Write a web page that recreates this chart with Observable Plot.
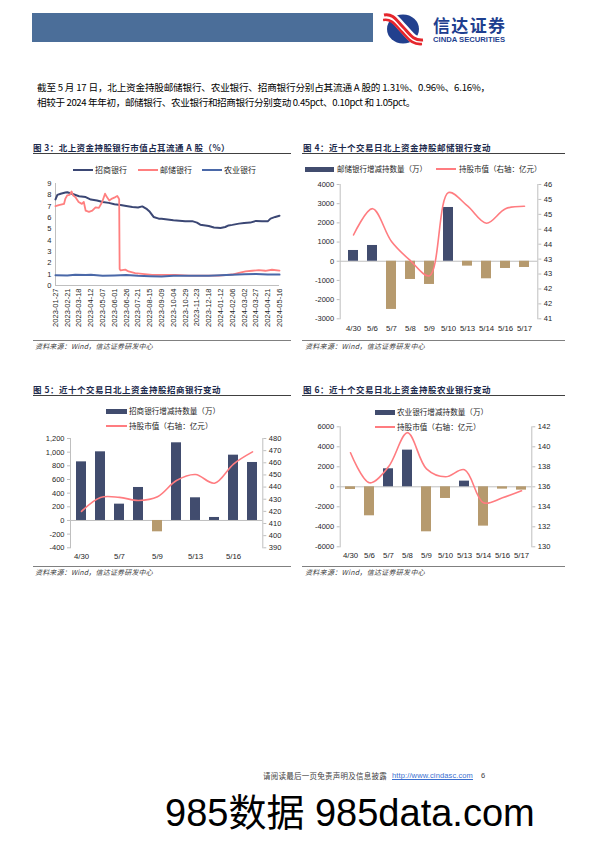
<!DOCTYPE html>
<html><head><meta charset="utf-8">
<script src="https://cdn.jsdelivr.net/npm/d3@7"></script>
<script src="https://cdn.jsdelivr.net/npm/@observablehq/plot@0.6"></script>
<style>
body{margin:0;background:#fff;}
#page{position:relative;width:596px;height:842px;overflow:hidden;background:#fff;font-family:"Liberation Sans","Noto Sans CJK SC",sans-serif;}
</style></head>
<body><div id="page"></div>
<script>
// ---------- data ----------
const paraLines = [
  "截至 5 月 17 日，北上资金持股邮储银行、农业银行、招商银行分别占其流通 A 股的 1.31%、0.96%、6.16%，",
  "相较于 2024 年年初，邮储银行、农业银行和招商银行分别变动 0.45pct、0.10pct 和 1.05pct。"
];
const titles = [
  "图 3：北上资金持股银行市值占其流通 A 股（%）",
  "图 4：近十个交易日北上资金持股邮储银行变动",
  "图 5：近十个交易日北上资金持股招商银行变动",
  "图 6：近十个交易日北上资金持股农业银行变动"
];
const sourceText = "资料来源：Wind，信达证券研发中心";

// Fig 3: share of free-float A shares held (%)
const fig3Names = ["招商银行", "邮储银行", "农业银行"];
const fig3Ticks = ["2023-01-27","2023-02-21","2023-03-18","2023-04-12","2023-05-07","2023-06-01","2023-06-26","2023-07-21","2023-08-15","2023-09-09","2023-10-04","2023-10-29","2023-11-23","2023-12-18","2024-01-12","2024-02-06","2024-03-02","2024-03-27","2024-04-21","2024-05-16"];
const cmbDates = ["2023-01-27","2023-01-31","2023-02-07","2023-02-17","2023-02-21","2023-03-03","2023-03-18","2023-04-01","2023-04-12","2023-04-25","2023-05-07","2023-05-20","2023-06-01","2023-06-14","2023-06-26","2023-07-09","2023-07-21","2023-07-30","2023-08-09","2023-08-15","2023-08-23","2023-09-03","2023-09-09","2023-10-04","2023-10-29","2023-11-13","2023-11-23","2023-11-30","2023-12-18","2023-12-29","2024-01-12","2024-01-22","2024-01-29","2024-02-06","2024-02-20","2024-03-02","2024-03-15","2024-03-27","2024-04-09","2024-04-21","2024-04-27","2024-05-07","2024-05-16"];
const cmbShare = [7.6,8.0,8.1,8.2,8.23,8.1,7.88,7.8,7.58,7.5,7.37,7.29,7.17,7.1,7.02,6.93,6.88,6.98,6.73,6.5,6.05,5.9,5.88,5.75,5.66,5.68,5.55,5.37,5.25,5.12,5.07,5.16,5.3,5.35,5.46,5.52,5.55,5.7,5.66,5.66,5.9,6.05,6.16];
const psbcDates = ["2023-01-27","2023-02-03","2023-02-14","2023-02-17","2023-02-21","2023-02-26","2023-03-02","2023-03-05","2023-03-10","2023-03-17","2023-03-24","2023-03-28","2023-04-01","2023-04-08","2023-04-15","2023-04-22","2023-04-29","2023-05-06","2023-05-12","2023-05-16","2023-05-21","2023-05-27","2023-06-03","2023-06-07","2023-06-10","2023-06-11","2023-06-12","2023-06-14","2023-06-24","2023-07-01","2023-07-15","2023-07-30","2023-08-20","2023-09-17","2023-10-08","2023-11-06","2023-12-11","2024-01-08","2024-02-06","2024-02-20","2024-03-05","2024-03-19","2024-04-02","2024-04-16","2024-04-30","2024-05-16"];
const psbcShare = [7.0,7.1,7.2,7.67,7.96,8.0,8.3,7.96,7.8,7.37,7.2,7.37,6.6,6.5,6.6,6.9,6.85,7.37,8.1,7.8,7.5,7.67,7.8,7.9,7.7,7.6,1.45,1.33,1.4,1.24,1.09,1.03,0.94,0.94,0.94,0.88,0.88,0.88,0.97,1.12,1.24,1.3,1.36,1.3,1.39,1.31];
const abcDates = ["2023-01-27","2023-02-21","2023-03-10","2023-04-01","2023-04-12","2023-05-07","2023-06-01","2023-06-26","2023-07-21","2023-08-15","2023-09-09","2023-10-04","2023-11-23","2023-12-18","2024-01-12","2024-02-06","2024-03-02","2024-03-27","2024-04-21","2024-05-16"];
const abcShare = [0.9,0.88,0.95,0.93,0.95,0.85,0.88,0.92,0.85,0.82,0.8,0.85,0.86,0.85,0.9,0.95,1.0,1.02,0.98,0.96];

// Fig 4-6: last ten trading days
const days = ["4/30","5/6","5/7","5/8","5/9","5/10","5/13","5/14","5/16","5/17"];
const fig5Labels = ["4/30","5/7","5/9","5/13","5/16"];
const psbcQty = [561,822,-2512,-950,-1210,2802,-255,-915,-377,-325];
const psbcVal = [44.12,45.10,43.88,43.16,42.60,45.70,45.20,44.56,45.10,45.19];
const cmbQty = [858,1005,239,483,-166,1137,332,44,956,849];
const cmbVal = [420,431.5,431.5,429,432,445.4,450.3,443.2,459,469];
const abcQty = [-267,-2900,1800,3667,-4500,-1167,567,-3933,-233,-333];
const abcVal = [139.4,136.4,138.0,141.4,137.8,137.0,137.7,134.4,134.9,135.6];
const qtyNames = ["邮储银行增减持数量（万）","招商银行增减持数量（万）","农业银行增减持数量（万）"];
const valName = "持股市值（右轴：亿元）";

// ---------- styling ----------
const POS = "#414c6e", NEG = "#b69a6e", LINE = "#ff7c80";
const C_CMB = "#3b4774", C_PSBC = "#ff7f7f", C_ABC = "#4a68a8";
const AXIS = "#bfbfbf", TXT = "#262626";
const FONT = "'Liberation Sans','Noto Sans CJK SC',sans-serif";
const CJK = "'Noto Sans CJK SC','Liberation Sans',sans-serif";
const baseStyle = {background:"transparent", overflow:"visible", fontFamily:FONT, fontSize:"7.5px", color:TXT};

const page = document.getElementById("page");
function box(left, top, css){ const d=document.createElement("div"); d.style.cssText=`position:absolute;left:${left}px;top:${top}px;${css||""}`; page.appendChild(d); return d; }
function text(txt, left, cy, size, css, fitW){
  const d = box(left, cy - size/2, `white-space:nowrap;line-height:1;font-size:${size}px;${css||""}`);
  d.textContent = txt;
  if (fitW){ const w = d.getBoundingClientRect().width; const n = [...txt].length; d.style.letterSpacing = ((fitW - w)/n) + "px"; }
  return d;
}
function hline(x1, x2, y, color, w){ box(x1, y, `width:${x2-x1}px;height:0;border-top:${w||1}px solid ${color};`); }
function place(svg, left, top){ const d = box(left, top, ""); d.appendChild(svg); return d; }

// ---------- header ----------
box(32, 13, "width:341px;height:29px;background:#4b6e99;");
const logo = box(383, 12, "width:125px;height:34px;");
logo.innerHTML = `<svg width="125" height="34" xmlns="http://www.w3.org/2000/svg">
<ellipse cx="20" cy="17" rx="16" ry="14.5" fill="#22408e"/>
<path d="M1 4 C10 2 14 10 20 16 C26 22 30 30 40 29" stroke="#fff" stroke-width="9" fill="none"/>
<path d="M1 3 C10 1 14 9 20 15 C26 21 30 29 40 28" stroke="#e5262c" stroke-width="3" fill="none"/>
<path d="M0 8 C9 6 13 14 19 20 C25 26 29 33 39 32" stroke="#e5262c" stroke-width="2.6" fill="none"/>
<text x="50" y="20" font-family="Noto Sans CJK SC" font-weight="bold" font-size="17" fill="#1e3f8f" textLength="72">信达证券</text>
<text x="50" y="30" font-family="Liberation Sans" font-weight="bold" font-size="6.9" fill="#1e3f8f" textLength="72" lengthAdjust="spacingAndGlyphs">CINDA SECURITIES</text>
</svg>`;

// ---------- paragraph ----------
text(paraLines[0], 37, 88, 9.6, `font-family:${CJK};color:#000;`, 453);
text(paraLines[1], 37, 103, 9.6, `font-family:${CJK};color:#000;`, 378);

// ---------- titles / sources ----------
const titleCss = `font-family:${CJK};font-weight:bold;color:#1c2a4c;`;
text(titles[0], 33, 147, 8.5, titleCss, 197);
text(titles[1], 303, 147, 8.5, titleCss, 188);
text(titles[2], 33, 389, 8.5, titleCss, 188);
text(titles[3], 303, 389, 8.5, titleCss, 188);
hline(33, 291, 153, "#404040", 0.8); hline(302, 565, 153, "#404040", 0.8);
hline(33, 291, 395, "#404040", 0.8); hline(302, 565, 395, "#404040", 0.8);
hline(33, 291, 340, "#808080", 0.7); hline(302, 565, 340, "#808080", 0.7);
hline(33, 291, 566, "#808080", 0.7); hline(302, 565, 566, "#808080", 0.7);
const srcCss = `font-family:${CJK};font-style:italic;color:#404040;`;
text(sourceText, 35, 346, 7, srcCss, 118);
text(sourceText, 305, 346, 7, srcCss, 120);
text(sourceText, 35, 572, 7, srcCss, 118);
text(sourceText, 305, 572, 7, srcCss, 120);

// ---------- legends ----------
function legLine(x, cy, w, color, sw){ box(x, cy - sw/2, `width:${w}px;height:${sw}px;background:${color};`); }
function legRect(x, cy, w, color){ box(x, cy - 2.5, `width:${w}px;height:5px;background:${color};`); }
const legCss = `font-family:${CJK};color:${TXT};`;
// fig 3
legLine(73, 170, 20, C_CMB, 2); text(fig3Names[0], 95, 170, 8, legCss);
legLine(138, 170, 20, C_PSBC, 2); text(fig3Names[1], 160, 170, 8, legCss);
legLine(202, 170, 20, C_ABC, 2); text(fig3Names[2], 224, 170, 8, legCss);

// ---------- Fig 3 ----------
const parse = d3.utcParse("%Y-%m-%d");
const fig3 = Plot.plot({
  width: 262, height: 152, marginLeft: 25, marginRight: 13, marginTop: 5, marginBottom: 45,
  style: baseStyle,
  x: {type: "utc", domain: [parse(fig3Ticks[0]), parse(fig3Ticks[fig3Ticks.length-1])]},
  y: {domain: [0, 9]},
  marks: [
    Plot.ruleY([0], {stroke: AXIS}),
    Plot.frame({anchor: "left", stroke: AXIS}),
    Plot.line(cmbShare, {x: (d,i) => parse(cmbDates[i]), y: d => d, stroke: C_CMB, strokeWidth: 2}),
    Plot.line(psbcShare, {x: (d,i) => parse(psbcDates[i]), y: d => d, stroke: C_PSBC, strokeWidth: 1.8}),
    Plot.line(abcShare, {x: (d,i) => parse(abcDates[i]), y: d => d, stroke: C_ABC, strokeWidth: 2}),
    Plot.axisY({ticks: d3.range(0, 10), tickSize: 0, tickPadding: 4, fill: TXT, label: null}),
    Plot.axisX({ticks: fig3Ticks.map(parse), tickFormat: d3.utcFormat("%Y-%m-%d"), tickRotate: -90, tickSize: 0, tickPadding: 3, fill: TXT, label: null})
  ]
});
place(fig3, 30, 178);

// ---------- dual-axis charts ----------
function dualChart(o){
  const common = {width: o.width, height: o.height, marginLeft: o.ml, marginRight: o.mr, marginTop: o.mt, marginBottom: o.mb, style: baseStyle};
  const bars = Plot.plot({
    ...common,
    x: {type: "band", domain: days, paddingInner: 0.5, paddingOuter: 0.25},
    y: {domain: o.qDomain},
    color: {type: "identity"},
    marks: [
      Plot.ruleY([0], {stroke: AXIS}),
      Plot.barY(o.qty, {x: (d,i) => days[i], y: d => d, fill: d => d >= 0 ? POS : NEG}),
      Plot.frame({anchor: "left", stroke: AXIS}),
      Plot.axisY({ticks: o.qTicks, tickFormat: o.qFmt, tickSize: 3, tickPadding: 3, stroke: AXIS, fill: TXT, label: null}),
      Plot.axisX({ticks: o.xTicks || days, tickSize: 0, tickPadding: o.xPad, fill: TXT, label: null, fontSize: 7.8})
    ]
  });
  const line = Plot.plot({
    ...common,
    x: {type: "point", domain: days, padding: 0.5, axis: null},
    y: {domain: o.vDomain},
    marks: [
      Plot.frame({anchor: "right", stroke: AXIS}),
      Plot.line(o.val, {x: (d,i) => days[i], y: d => d, stroke: LINE, strokeWidth: 1.6, curve: "catmull-rom"}),
      Plot.axisY({anchor: "right", ticks: o.vTicks, tickFormat: o.vFmt, tickSize: 3, tickPadding: 3, stroke: AXIS, fill: TXT, label: null})
    ]
  });
  place(bars, o.left, o.top);
  place(line, o.left, o.top);
}
const plain = d => String(d);
const comma = d => d3.format(",")(d).replace("−", "-");

// Fig 4
dualChart({left: 300, top: 178, width: 270, height: 162, ml: 39.7, mr: 32.7, mt: 6, mb: 21.7,
  qty: psbcQty, qDomain: [-3000, 4000], qTicks: d3.range(-3000, 4001, 1000), qFmt: plain,
  val: psbcVal, vDomain: [41, 46], vTicks: d3.range(10).map(i => 41 + i*5/9), vFmt: d => d3.format(".0f")(d),
  xPad: 7});
// Fig 5
dualChart({left: 30, top: 432, width: 270, height: 134, ml: 40, mr: 37.7, mt: 6, mb: 18.7,
  qty: cmbQty, qDomain: [-400, 1200], qTicks: d3.range(-400, 1201, 200), qFmt: comma,
  val: cmbVal, vDomain: [390, 480], vTicks: d3.range(390, 481, 10), vFmt: plain,
  xTicks: fig5Labels, xPad: 6});
// Fig 6
dualChart({left: 300, top: 420, width: 270, height: 146, ml: 39.7, mr: 38.7, mt: 6.3, mb: 19.7,
  qty: abcQty, qDomain: [-6000, 6000], qTicks: d3.range(-6000, 6001, 2000), qFmt: plain,
  val: abcVal, vDomain: [130, 142], vTicks: d3.range(130, 143, 2), vFmt: plain,
  xPad: 6});

// legends for fig 4-6 (on top)
legRect(305, 169, 29, POS); text(qtyNames[0], 337, 169, 7.5, legCss);
legLine(436, 169, 20, LINE, 1.6); text(valName, 459, 169, 7.5, legCss);
legRect(106, 411, 21, POS); text(qtyNames[1], 129, 411, 7.6, legCss);
legLine(106, 426, 21, LINE, 1.6); text(valName, 129, 426, 7.6, legCss);
legRect(375, 412, 20, POS); text(qtyNames[2], 397, 412, 7.6, legCss);
legLine(375, 427, 20, LINE, 1.6); text(valName, 397, 427, 7.6, legCss);

// ---------- footer ----------
text("请阅读最后一页免责声明及信息披露", 263, 776, 7.5, `font-family:${CJK};color:#404040;`, 124);
const link = text("http://www.cindasc.com", 392, 776, 7.5, "color:#3a6fd0;text-decoration:underline;", 81);
text("6", 481, 776, 7.5, "color:#404040;");
text("985数据 985data.com", 165, 813, 38, `font-family:${FONT};color:#000;`);
</script>
</body></html>
